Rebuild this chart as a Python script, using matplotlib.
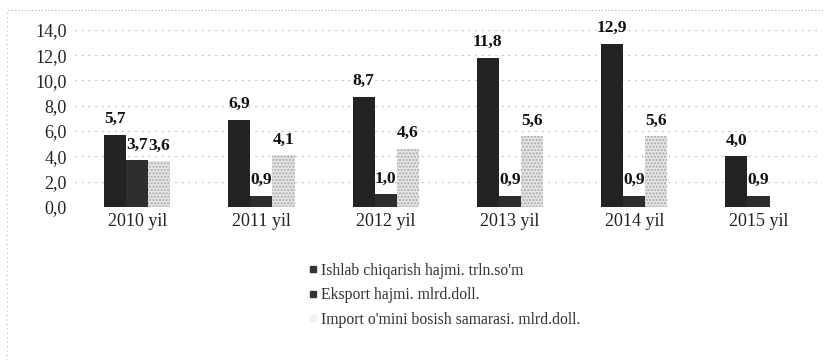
import numpy as np
import matplotlib.pyplot as plt
from matplotlib.lines import Line2D

# Данные по годам
years = ["2010 yil", "2011 yil", "2012 yil", "2013 yil", "2014 yil", "2015 yil"]
ishlab = [5.7, 6.9, 8.7, 11.8, 12.9, 4.0]
eksport = [3.7, 0.9, 1.0, 0.9, 0.9, 0.9]
import_orn = [3.6, 4.1, 4.6, 5.6, 5.6, None]

series_names = [
    "Ishlab chiqarish hajmi. trln.so'm",
    "Eksport hajmi. mlrd.doll.",
    "Import o'mini bosish samarasi. mlrd.doll.",
]

plt.rcParams["font.family"] = ["Liberation Serif", "DejaVu Serif"]

fig = plt.figure(figsize=(8.24, 3.6), dpi=100)
ax = fig.add_axes([0.091, 0.425, 0.905, 0.492])

x = np.arange(len(years))
w = 0.178
styles = [
    dict(color="#232323"),
    dict(color="#2e2e2e"),
    dict(color="#e4e4e4", hatch=".....", edgecolor="#a8a8a8", linewidth=0),
]
all_series = [ishlab, eksport, import_orn]

for k, (vals, st) in enumerate(zip(all_series, styles)):
    xs = [xi + (k - 1.5) * w for xi, v in zip(x, vals) if v is not None]
    vs = [v for v in vals if v is not None]
    ax.bar(xs, vs, width=w, align="edge", zorder=2, **st)
    for xi, v in zip(xs, vs):
        ax.text(xi + w / 2, v + 0.6, f"{v:.1f}".replace(".", ","),
                ha="center", va="bottom", fontsize=12.5, fontweight="bold",
                color="#111111", zorder=3)

ax.set_ylim(0, 14)
ax.set_xlim(-0.5, len(years) - 0.5)
ax.set_yticks(np.arange(0, 15, 2))
ax.set_yticklabels([f"{t:.1f}".replace(".", ",") for t in np.arange(0, 15, 2)])
ax.set_xticks(x)
ax.set_xticklabels(years)
ax.tick_params(length=0, labelsize=13, colors="#222222", pad=4)
ax.tick_params(axis="y", pad=6)
ax.grid(axis="y", color="#9a9a9a", linestyle=(0, (1, 5)), linewidth=0.8, zorder=0)
for s in ax.spines.values():
    s.set_visible(False)

# Легенда: три строки одна под другой
handles = [
    Line2D([], [], marker="s", linestyle="none", markersize=4.5, color="#333333"),
    Line2D([], [], marker="s", linestyle="none", markersize=4.5, color="#333333"),
    Line2D([], [], marker="s", linestyle="none", markersize=4.5, color="#f2f2f2"),
]
fig.legend(handles, series_names, loc="upper left", bbox_to_anchor=(0.366, 0.288),
           frameon=False, fontsize=11.3, labelcolor="#333333", handlelength=0.6,
           handletextpad=0.25, labelspacing=0.55, borderaxespad=0)

# Пунктирная рамка сверху и слева
fig.add_artist(Line2D([0.01, 1.0], [0.972, 0.972], transform=fig.transFigure,
                      color="#aaaaaa", linestyle=(0, (1, 2)), linewidth=0.8))
fig.add_artist(Line2D([0.009, 0.009], [0.0, 0.972], transform=fig.transFigure,
                      color="#bbbbbb", linestyle=(0, (1, 3)), linewidth=0.8))

fig.savefig("out.png", dpi=100)
